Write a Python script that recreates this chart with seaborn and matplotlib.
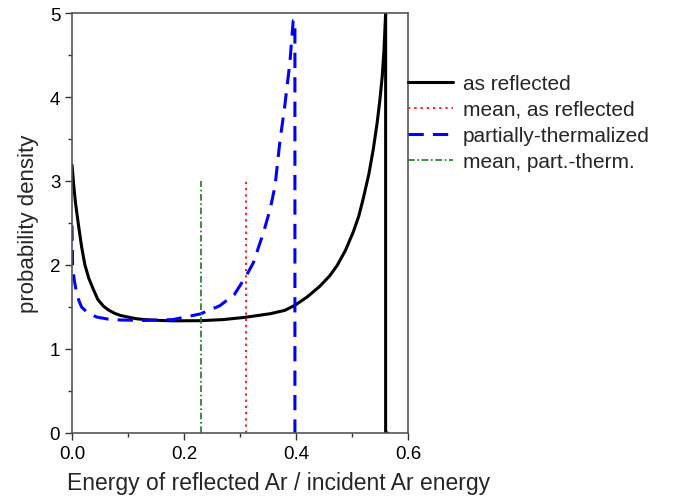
import matplotlib
matplotlib.use("Agg")
import matplotlib.pyplot as plt
from matplotlib.ticker import MultipleLocator, FormatStrFormatter
import seaborn as sns
import pandas as pd

# Energy distribution of reflected Ar, as reflected (drops to zero at the kinematic limit)
refl_x = [0.0, 0.003, 0.006, 0.011, 0.017, 0.023, 0.030, 0.038, 0.046, 0.056, 0.066,
          0.076, 0.086, 0.100, 0.115, 0.130, 0.155, 0.180, 0.229, 0.270, 0.309,
          0.354, 0.380, 0.398, 0.420, 0.443, 0.460, 0.473, 0.488, 0.502, 0.512,
          0.520, 0.530, 0.538, 0.545, 0.550, 0.554, 0.557, 0.560, 0.560, 0.563]
refl_y = [3.19, 2.95, 2.75, 2.50, 2.22, 2.00, 1.84, 1.71, 1.59, 1.51, 1.46,
          1.425, 1.40, 1.38, 1.36, 1.35, 1.34, 1.335, 1.337, 1.35, 1.377,
          1.42, 1.46, 1.52, 1.62, 1.75, 1.87, 1.99, 2.17, 2.39, 2.58,
          2.79, 3.08, 3.38, 3.70, 3.98, 4.25, 4.55, 5.00, 0.0, 0.0]

# Partially-thermalized distribution
therm_x = [0.0, 0.001, 0.004, 0.007, 0.012, 0.017, 0.028, 0.044, 0.065, 0.086, 0.130,
           0.180, 0.229, 0.264, 0.290, 0.311, 0.324, 0.342, 0.354, 0.3625, 0.371,
           0.380, 0.389, 0.395, 0.398, 0.398]
therm_y = [2.47, 2.00, 1.82, 1.71, 1.58, 1.50, 1.43, 1.38, 1.355, 1.345, 1.34,
           1.35, 1.417, 1.515, 1.65, 1.87, 2.03, 2.39, 2.67, 2.94, 3.46,
           3.90, 4.41, 4.91, 4.91, 0.0]

# Mean energies, shown as vertical markers
mean_refl = 0.31
mean_therm = 0.23
mean_height = [0.0, 3.0]

fig = plt.figure(figsize=(6.77, 5.02), dpi=100)
sns.set_style("ticks")
plt.rcParams["font.family"] = ["Liberation Sans", "DejaVu Sans"]
ax = fig.add_axes([0.1064, 0.1355, 0.4963, 0.8366])

refl = pd.DataFrame({"x": refl_x, "y": refl_y})
therm = pd.DataFrame({"x": therm_x, "y": therm_y})
m_refl = pd.DataFrame({"x": [mean_refl, mean_refl], "y": mean_height})
m_therm = pd.DataFrame({"x": [mean_therm, mean_therm], "y": mean_height})

sns.lineplot(data=refl, x="x", y="y", ax=ax, sort=False, estimator=None,
             color="black", lw=2.2, label="as reflected")
sns.lineplot(data=m_refl, x="x", y="y", ax=ax, sort=False, estimator=None,
             color="#ff2020", lw=1.4, label="mean, as reflected")
sns.lineplot(data=therm, x="x", y="y", ax=ax, sort=False, estimator=None,
             color="#0000ff", lw=2.2, label="partially-thermalized")
sns.lineplot(data=m_therm, x="x", y="y", ax=ax, sort=False, estimator=None,
             color="#1a7a1a", lw=1.2, label="mean, part.-therm.")

lines = ax.get_lines()
lines[1].set_dashes((1.2, 2.0))
lines[2].set_dashes((5.0, 3.0))
lines[3].set_dashes((4.0, 1.6, 1.0, 1.6))

ax.set_xlim(0, 0.6)
ax.set_ylim(0, 5)
ax.xaxis.set_major_locator(MultipleLocator(0.2))
ax.xaxis.set_minor_locator(MultipleLocator(0.1))
ax.yaxis.set_major_locator(MultipleLocator(1))
ax.yaxis.set_minor_locator(MultipleLocator(0.5))
ax.xaxis.set_major_formatter(FormatStrFormatter("%.1f"))
ax.tick_params(which="major", direction="out", length=5, width=1.0, labelsize=13.5,
               colors="#333333", labelcolor="black")
ax.tick_params(which="minor", direction="out", length=3, width=1.0, colors="#333333")
ax.tick_params(top=False, right=False, which="both")
for s in ax.spines.values():
    s.set_color("#555555")
    s.set_linewidth(1.2)

ax.set_xlabel("Energy of reflected Ar / incident Ar energy", fontsize=16.5)
ax.xaxis.set_label_coords(0.615, -0.09)
ax.set_ylabel("probability density", fontsize=16, labelpad=8)

leg = ax.legend(loc="upper left", bbox_to_anchor=(1.0, 0.855), frameon=False,
                fontsize=15, handlelength=2.15, handletextpad=0.48,
                borderaxespad=0, borderpad=0, labelspacing=0.34)

fig.savefig("out.png", dpi=100)
